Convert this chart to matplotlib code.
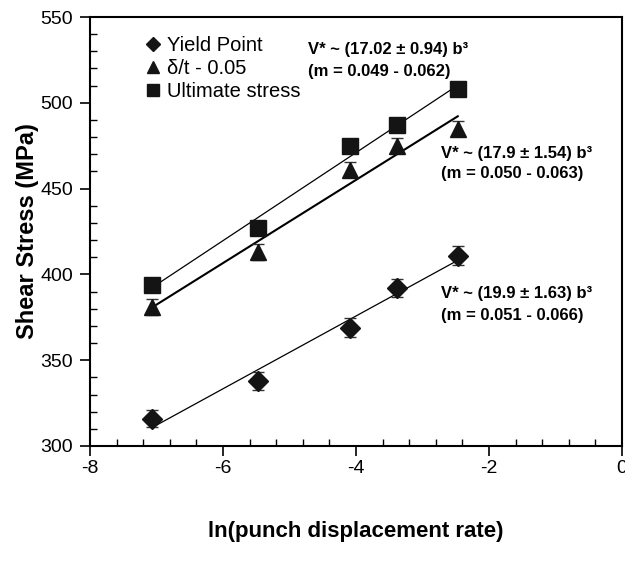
import numpy as np
import matplotlib
matplotlib.use('Agg')
import matplotlib.pyplot as plt
from matplotlib.ticker import MultipleLocator
from matplotlib.lines import Line2D

plt.rcParams['font.family'] = ['Liberation Sans', 'DejaVu Sans']
plt.rcParams['axes.unicode_minus'] = False

# ln(punch displacement rate)
ln_rate = [-7.07, -5.47, -4.09, -3.39, -2.47]

# shear stress (MPa) and error bar half widths
yield_point = [316, 338, 369, 392, 411]
yield_err = [5.0, 5.2, 5.4, 5.4, 5.4]
delta_t = [381, 413, 461, 475, 485]
delta_err = [4.7, 4.8, 4.5, 4.3, 4.5]
ultimate = [394, 427, 475, 487, 508]

legend_labels = ['Yield Point', '\u03b4/t - 0.05', 'Ultimate stress']

fit_notes = [
    ('V* ~ (17.02 \u00b1 0.94) b\u00b3', '(m = 0.049 - 0.062)'),
    ('V* ~ (17.9 \u00b1 1.54) b\u00b3', '(m = 0.050 - 0.063)'),
    ('V* ~ (19.9 \u00b1 1.63) b\u00b3', '(m = 0.051 - 0.066)'),
]
note_x = [-4.72, -2.72, -2.72]
note_y = [(531, 518), (470.5, 458.7), (388.7, 376)]

mk = '#141414'

fig = plt.figure(figsize=(6.25, 5.66), dpi=100)
ax = fig.add_axes([90 / 625, 1 - 446 / 566, (622 - 90) / 625, (446 - 17) / 566])

x = np.array(ln_rate)

# fitted lines
for ys, lw in [(ultimate, 0.9), (delta_t, 1.5), (yield_point, 0.9)]:
    k, b = np.polyfit(x, ys, 1)
    xx = np.array([x.min(), x.max()])
    ax.plot(xx, k * xx + b, color='black', lw=lw, zorder=2)

ax.errorbar(x, yield_point, yerr=yield_err, fmt='none', ecolor='#333333',
            elinewidth=1, capsize=4.5, capthick=1, zorder=3)
ax.errorbar(x, delta_t, yerr=delta_err, fmt='none', ecolor='#333333',
            elinewidth=1, capsize=4.5, capthick=1, zorder=3)

ax.plot(x, yield_point, 'D', color=mk, ms=10, ls='none', zorder=4)
ax.plot(x, delta_t, '^', color=mk, ms=11.5, ls='none', zorder=4)
ax.plot(x, ultimate, 's', color=mk, ms=11, ls='none', zorder=4)

for (l1, l2), nx, (y1, y2) in zip(fit_notes, note_x, note_y):
    ax.text(nx, y1, l1, fontsize=12, fontweight='bold', ha='left', va='center')
    ax.text(nx, y2, l2, fontsize=12, fontweight='bold', ha='left', va='center')

handles = [
    Line2D([], [], marker='D', color=mk, ls='none', ms=7),
    Line2D([], [], marker='^', color=mk, ls='none', ms=9),
    Line2D([], [], marker='s', color=mk, ls='none', ms=8),
]
ax.legend(handles, legend_labels, loc='upper left', bbox_to_anchor=(0.105, 0.955),
          frameon=False, fontsize=14.5, handlelength=0.7, handletextpad=0.35,
          labelspacing=0.2, borderpad=0, borderaxespad=0)

ax.set_xlim(-8, 0)
ax.set_ylim(300, 550)
ax.xaxis.set_major_locator(MultipleLocator(2))
ax.xaxis.set_minor_locator(MultipleLocator(0.4))
ax.yaxis.set_major_locator(MultipleLocator(50))
ax.yaxis.set_minor_locator(MultipleLocator(10))
ax.tick_params(which='major', direction='out', length=7, width=1.2, labelsize=14)
ax.tick_params(axis='x', which='major', pad=3)
ax.tick_params(axis='y', which='major', pad=5)
ax.tick_params(which='minor', direction='in', length=5, width=1)
for s in ax.spines.values():
    s.set_linewidth(1.5)

ax.set_xlabel('ln(punch displacement rate)', fontsize=16, fontweight='bold', labelpad=32)
ax.set_ylabel('Shear Stress (MPa)', fontsize=17, fontweight='bold', labelpad=1)

fig.savefig('out.png', dpi=100)
